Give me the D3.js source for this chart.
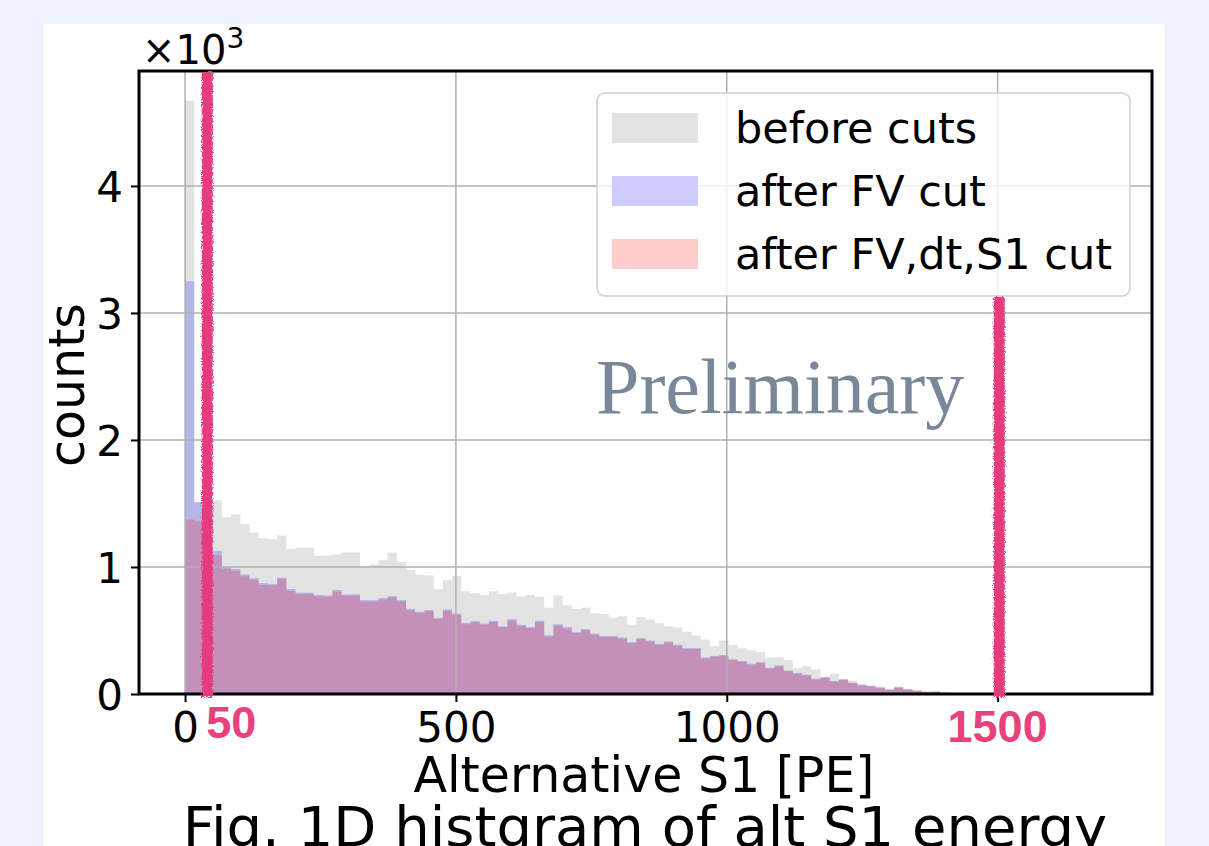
<!DOCTYPE html>
<html>
<head>
<meta charset="utf-8">
<script src="https://cdn.jsdelivr.net/npm/d3@7"></script>
<style>
  html, body { margin: 0; padding: 0; background: #EEF2FD; }
  svg { display: block; }
</style>
</head>
<body>
<svg id="chart" width="1209" height="846"></svg>
<script>
// ---------------- data ----------------
const binWidth = 17; // PE per bin
// counts in units of 10^3, bins start at 0 PE
const beforeCuts = [4.67,1.51,1.50,1.525,1.392,1.413,1.339,1.272,1.227,1.219,
  1.248,1.141,1.152,1.152,1.088,1.088,1.099,1.115,1.115,1.008,
  1.019,1.053,1.115,1.04,0.976,0.939,0.933,0.824,0.896,0.93,
  0.809,0.795,0.779,0.809,0.787,0.80,0.768,0.779,0.765,0.68,
  0.776,0.699,0.67,0.68,0.637,0.63,0.60,0.613,0.547,0.605,
  0.587,0.557,0.533,0.523,0.49,0.46,0.43,0.375,0.421,0.387,
  0.36,0.344,0.33,0.288,0.29,0.267,0.205,0.219,0.192,0.135,
  0.16,0.115,0.107,0.08,0.067,0.06,0.042,0.06,0.038,0.027,
  0.02,0.02,0.011,0.004];
const afterFV = [3.25,1.51,1.22,1.125,1.0,0.985,0.941,0.912,0.874,0.866,
  0.915,0.826,0.80,0.797,0.78,0.776,0.818,0.783,0.785,0.74,
  0.738,0.755,0.772,0.741,0.672,0.648,0.662,0.60,0.666,0.633,
  0.56,0.575,0.556,0.577,0.534,0.588,0.546,0.527,0.576,0.462,
  0.549,0.525,0.489,0.511,0.476,0.457,0.456,0.444,0.409,0.441,
  0.421,0.395,0.413,0.387,0.363,0.362,0.287,0.30,0.308,0.274,
  0.259,0.238,0.251,0.206,0.225,0.186,0.165,0.152,0.12,0.132,
  0.103,0.116,0.089,0.07,0.063,0.052,0.035,0.053,0.037,0.027,
  0.017,0.02,0.011,0.003];
const afterAll = [1.373,1.36,1.20,1.093,0.987,0.97,0.928,0.90,0.859,0.855,
  0.907,0.813,0.787,0.787,0.768,0.768,0.805,0.773,0.773,0.728,
  0.728,0.745,0.76,0.73,0.66,0.637,0.652,0.59,0.656,0.623,
  0.55,0.564,0.547,0.566,0.525,0.577,0.537,0.517,0.566,0.453,
  0.539,0.516,0.48,0.501,0.467,0.448,0.448,0.435,0.40,0.432,
  0.413,0.387,0.405,0.379,0.355,0.355,0.28,0.293,0.301,0.267,
  0.253,0.232,0.245,0.20,0.219,0.181,0.16,0.147,0.115,0.128,
  0.099,0.112,0.085,0.067,0.059,0.048,0.032,0.05,0.035,0.025,
  0.015,0.018,0.01,0.003];
const seriesNames = ["before cuts", "after FV cut", "after FV,dt,S1 cut"];
const xTicks = [0, 500, 1000, 1500];
const xTickLabels = ["0", "500", "1000", ""];   // 1500 is shown by the pink annotation
const yTicks = [0, 1, 2, 3, 4];
const cutPositions = [41, 1503];      // where the hand-drawn cut lines sit
const cutLabels = ["50", "1500"];
const xLabel = "Alternative S1 [PE]";
const yLabel = "counts";
const caption = "Fig. 1D histgram of alt S1 energy";
const watermark = "Preliminary";

// ---------------- layout ----------------
const svg = d3.select("#chart");
const L = 139, R = 1152, T = 71, B = 694;
const x = d3.scaleLinear().domain([-85, 1785]).range([L, R]);
const y = d3.scaleLinear().domain([0, 4.905]).range([B, T]);

const fillGray = "rgb(227,227,227)";
const fillBlue = "rgba(0,0,255,0.2)";
const fillRed = "rgba(255,0,0,0.2)";
const cutColor = "#E63B7B";

// white panel
svg.append("rect").attr("x", 43).attr("y", 24).attr("width", 1122).attr("height", 822).attr("fill", "#ffffff");

const defs = svg.append("defs");
defs.append("clipPath").attr("id", "plotClip")
  .append("rect").attr("x", L).attr("y", T).attr("width", R - L).attr("height", B - T);
const f = defs.append("filter").attr("id", "rough").attr("x", "-50%").attr("y", "-5%").attr("width", "200%").attr("height", "110%");
f.append("feTurbulence").attr("type", "fractalNoise").attr("baseFrequency", "0.8").attr("numOctaves", 2).attr("seed", 3).attr("result", "noise");
f.append("feDisplacementMap").attr("in", "SourceGraphic").attr("in2", "noise").attr("scale", 5).attr("xChannelSelector", "R").attr("yChannelSelector", "G");

// histograms
function toSteps(vals) {
  const pts = vals.map((v, i) => ({ x: i * binWidth, v }));
  pts.push({ x: vals.length * binWidth, v: 0 });
  return pts;
}
const area = d3.area().curve(d3.curveStepAfter)
  .x(d => x(d.x)).y0(y(0)).y1(d => y(d.v));
const gHist = svg.append("g").attr("clip-path", "url(#plotClip)");
[[beforeCuts, fillGray], [afterFV, fillBlue], [afterAll, fillRed]].forEach(([vals, col]) => {
  gHist.append("path").datum(toSteps(vals)).attr("d", area).attr("fill", col);
});

// grid (above patches, as matplotlib does)
const gGrid = svg.append("g");
gGrid.selectAll("line.vx").data(xTicks).join("line")
  .attr("x1", d => x(d)).attr("x2", d => x(d)).attr("y1", T).attr("y2", B)
  .attr("stroke", "#b0b0b0").attr("stroke-width", 1.5);
gGrid.selectAll("line.hy").data(yTicks).join("line")
  .attr("x1", L).attr("x2", R).attr("y1", d => y(d)).attr("y2", d => y(d))
  .attr("stroke", "#b0b0b0").attr("stroke-width", 1.5);

// axes
const xAxis = d3.axisBottom(x).tickValues(xTicks).tickSize(8).tickPadding(10)
  .tickFormat((d, i) => xTickLabels[i]);
const yAxis = d3.axisLeft(y).tickValues(yTicks).tickSize(8).tickPadding(8).tickFormat(d3.format("d"));
const gx = svg.append("g").attr("transform", `translate(0,${B})`).call(xAxis);
const gy = svg.append("g").attr("transform", `translate(${L},0)`).call(yAxis);
[gx, gy].forEach(g => {
  g.select(".domain").remove();
  g.selectAll(".tick line").attr("stroke", "#000").attr("stroke-width", 2);
  g.selectAll(".tick text").attr("fill", "#000").attr("font-family", "DejaVu Sans").attr("font-size", 42);
});
gx.selectAll(".tick text").attr("dy", "0.71em");
gy.selectAll(".tick text").attr("dy", "0.36em");

// frame
svg.append("rect").attr("x", L).attr("y", T).attr("width", R - L).attr("height", B - T)
  .attr("fill", "none").attr("stroke", "#000").attr("stroke-width", 3);

// multiplier
const mult = svg.append("text").attr("x", 142).attr("y", 64)
  .attr("font-family", "DejaVu Sans").attr("font-size", 40).attr("fill", "#000");
mult.append("tspan").text("\u00d710");
mult.append("tspan").attr("font-size", 28).attr("dy", -16).text("3");

// watermark
svg.append("text").attr("x", 596).attr("y", 413).text(watermark)
  .attr("font-family", "Liberation Serif, Times New Roman, serif").attr("font-size", 78)
  .attr("fill", "#7A8798");

// legend
const lg = svg.append("g");
lg.append("rect").attr("x", 597).attr("y", 93).attr("width", 533).attr("height", 203).attr("rx", 8)
  .attr("fill", "#fff").attr("fill-opacity", 0.8).attr("stroke", "#d0d0d0").attr("stroke-width", 1.5);
const legendFills = ["rgb(227,227,227)", "rgb(204,204,255)", "rgb(255,204,204)"];
seriesNames.forEach((name, i) => {
  const cy = 128 + i * 63;
  lg.append("rect").attr("x", 612).attr("y", cy - 15).attr("width", 86).attr("height", 30).attr("fill", legendFills[i]);
  lg.append("text").attr("x", 735).attr("y", cy).attr("dy", "0.36em").text(name)
    .attr("font-family", "DejaVu Sans").attr("font-size", 43).attr("fill", "#000");
});

// hand-drawn cut lines
const cutTops = [T + 1, 297];
cutPositions.forEach((p, i) => {
  svg.append("rect").attr("x", x(p) - 5.5).attr("y", cutTops[i]).attr("width", 11).attr("height", B + 3 - cutTops[i])
    .attr("fill", cutColor).attr("filter", "url(#rough)");
});
svg.append("text").attr("x", x(cutPositions[0]) - 1).attr("y", 738).text(cutLabels[0])
  .attr("font-family", "Liberation Sans, Arial, sans-serif").attr("font-weight", "bold").attr("font-size", 45)
  .attr("fill", "#E8417D");
svg.append("text").attr("x", x(1500)).attr("y", 742).attr("text-anchor", "middle").text(cutLabels[1])
  .attr("font-family", "Liberation Sans, Arial, sans-serif").attr("font-weight", "bold").attr("font-size", 45)
  .attr("fill", "#E8417D");

// axis labels
svg.append("text").attr("x", 644).attr("y", 792).attr("text-anchor", "middle").text(xLabel)
  .attr("font-family", "DejaVu Sans").attr("font-size", 49).attr("fill", "#000");
svg.append("text").attr("transform", "translate(84,385) rotate(-90)").attr("text-anchor", "middle").text(yLabel)
  .attr("font-family", "DejaVu Sans").attr("font-size", 49).attr("fill", "#000");

// caption
svg.append("text").attr("x", 645).attr("y", 846).attr("text-anchor", "middle").text(caption)
  .attr("font-family", "DejaVu Sans").attr("font-size", 56).attr("fill", "#000");
</script>
</body>
</html>
